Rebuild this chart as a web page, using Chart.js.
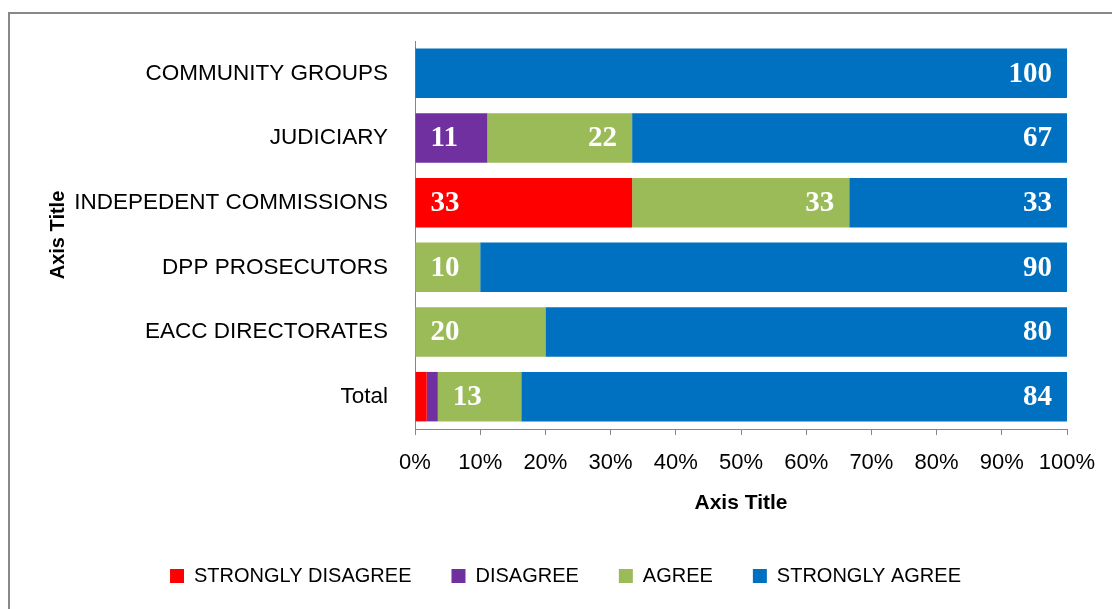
<!DOCTYPE html>
<html>
<head>
<meta charset="utf-8">
<script src="https://cdn.jsdelivr.net/npm/chart.js@4/dist/chart.umd.min.js"></script>
<style>
  html, body { margin: 0; padding: 0; background: #fff; }
  #wrap { position: relative; width: 1112px; height: 609px; overflow: hidden; }
  #frame { position: absolute; left: 8px; top: 12px; width: 1200px; height: 700px; border: 2px solid #888; box-sizing: border-box; }
  #chart { position: absolute; left: 0; top: 0; }
</style>
</head>
<body>
<div id="wrap">
  <div id="frame"></div>
  <canvas id="chart" width="1112" height="609"></canvas>
</div>
<script>
const categories = ['COMMUNITY GROUPS', 'JUDICIARY', 'INDEPEDENT COMMISSIONS', 'DPP PROSECUTORS', 'EACC DIRECTORATES', 'Total'];
const seriesNames = ['STRONGLY DISAGREE', 'DISAGREE', 'AGREE', 'STRONGLY AGREE'];
const stronglyDisagree = [0, 0, 33.3, 0, 0, 1.8];
const disagree = [0, 11.1, 0, 0, 0, 1.7];
const agree = [0, 22.2, 33.3, 10, 20, 12.8];
const stronglyAgree = [100, 66.7, 33.4, 90, 80, 83.7];
const xTicks = [0, 10, 20, 30, 40, 50, 60, 70, 80, 90, 100];

const colors = ['#FF0000', '#7030A0', '#9BBB59', '#0070C0'];
const axisGray = '#868686';
const PAD_LEFT = 64;

function $(id) {
  return document.getElementById(id);
}

// white bold numbers inside the segments, like the Excel data labels
const barLabels = {
  id: 'barLabels',
  afterDatasetsDraw(chart) {
    const ctx = chart.ctx;
    const area = chart.chartArea;
    const w = area.right - area.left;
    ctx.save();
    ctx.font = 'bold 29px "Liberation Serif", "Times New Roman", serif';
    ctx.fillStyle = '#fff';
    ctx.textBaseline = 'middle';
    chart.data.datasets.forEach((ds, di) => {
      const meta = chart.getDatasetMeta(di);
      meta.data.forEach((bar, i) => {
        const v = Number(ds.data[i]);
        if (!Number.isFinite(v) || v < 5) return;
        const start = Math.min(bar.x, bar.base);
        const end = Math.max(bar.x, bar.base);
        const txt = String(Math.round(v));
        const nearBase = start - area.left < w * 0.05;
        const atEnd = area.right - end < 2;
        if (nearBase && !atEnd) {
          ctx.textAlign = 'left';
          ctx.fillText(txt, start + 15, bar.y + 1);
        } else {
          ctx.textAlign = 'right';
          ctx.fillText(txt, end - 15, bar.y + 1);
        }
      });
    });
    ctx.restore();
  }
};

function buildChart() {
  const el = $('chart');
  const values = [stronglyDisagree, disagree, agree, stronglyAgree];
  const datasets = seriesNames.map((name, i) => ({
    label: name,
    data: values[i],
    backgroundColor: colors[i],
    borderWidth: 0,
    barPercentage: 0.765,
    categoryPercentage: 1
  }));

  return new Chart(el, {
    type: 'bar',
    data: { labels: categories, datasets: datasets },
    plugins: [barLabels],
    options: {
      indexAxis: 'y',
      responsive: false,
      animation: false,
      layout: { padding: { top: 41, left: PAD_LEFT, right: 45, bottom: 13 } },
      plugins: {
        tooltip: { enabled: false },
        legend: {
          position: 'bottom',
          labels: {
            boxWidth: 14,
            boxHeight: 14,
            padding: 40,
            color: '#000',
            font: { family: '"Liberation Sans", Arial, sans-serif', size: 20 }
          }
        }
      },
      scales: {
        x: {
          stacked: true,
          min: 0,
          max: 100,
          afterBuildTicks: (scale) => { scale.ticks = xTicks.map((v) => ({ value: v })); },
          afterFit: (scale) => { scale.height = 97; },
          ticks: {
            padding: 15,
            color: '#000',
            font: { family: '"Liberation Sans", Arial, sans-serif', size: 22 },
            callback: (v) => `${v}%`
          },
          grid: { display: true, drawOnChartArea: false, drawTicks: true, tickLength: 6, color: axisGray },
          border: { display: true, color: axisGray, width: 1 },
          title: {
            display: true,
            text: 'Axis Title',
            color: '#000',
            padding: { top: 4, bottom: 10 },
            font: { family: '"Liberation Sans", Arial, sans-serif', size: 21, weight: 'bold' }
          }
        },
        y: {
          stacked: true,
          afterFit: (scale) => { scale.width = 415 - PAD_LEFT; },
          ticks: {
            padding: 27,
            color: '#000',
            font: { family: '"Liberation Sans", Arial, sans-serif', size: 22.5 }
          },
          grid: { display: false, drawTicks: false },
          border: { display: true, color: axisGray, width: 1 },
          title: {
            display: true,
            text: 'Axis Title',
            color: '#000',
            padding: { top: -18, bottom: 4 },
            font: { family: '"Liberation Sans", Arial, sans-serif', size: 20, weight: 'bold' }
          }
        }
      }
    }
  });
}

buildChart();
</script>
</body>
</html>
